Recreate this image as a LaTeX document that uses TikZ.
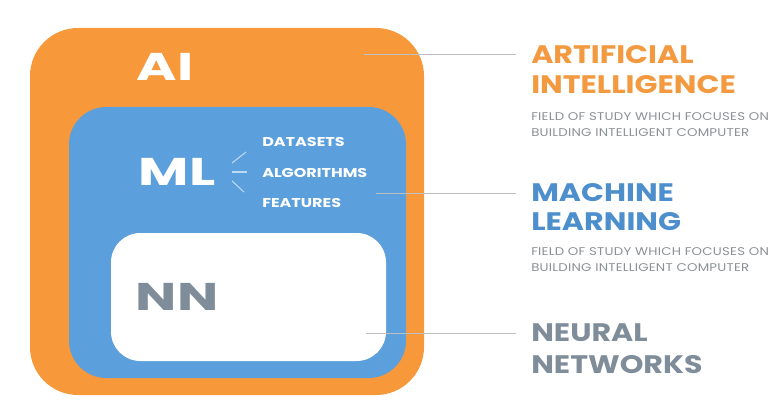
\documentclass[tikz,border=0pt]{standalone}
\usepackage{fontspec}
\setmainfont{Poppins}[FakeStretch=1.19]
\newfontfamily\bigfont{Poppins}[FakeStretch=1.42]
\newfontfamily\subfont{Poppins}[FakeStretch=1.25]
\definecolor{aiorange}{HTML}{F7993B}
\definecolor{mlblue}{HTML}{5B9FDC}
\definecolor{nngray}{HTML}{7F8D9A}
\definecolor{titleorange}{HTML}{F39A40}
\definecolor{titleblue}{HTML}{4C8FCC}
\definecolor{descgray}{HTML}{8C9196}
\definecolor{linegray}{HTML}{BCC0C4}
\tikzset{
  bigbox/.style={rounded corners=#1, inner sep=0pt},
  bigletters/.style={font=\bigfont\fontsize{29}{30}\selectfont\bfseries, inner sep=0pt, anchor=center},
  subitem/.style={font=\subfont\fontsize{9.6}{10}\selectfont\bfseries, text=white, inner sep=0pt, anchor=west},
  title/.style={font=\fontsize{19}{20}\selectfont\bfseries, inner sep=0pt, anchor=west},
  desc/.style={font=\fontsize{8.4}{9}\selectfont\addfontfeature{LetterSpace=2}, text=descgray, inner sep=0pt, anchor=west},
  leader/.style={draw=linegray, line width=0.6pt},
  tick/.style={draw=white!60!mlblue, line width=0.8pt}
}
\begin{document}
\begin{tikzpicture}[x=0.75pt,y=-0.75pt]
\useasboundingbox (0,0) rectangle (771,410);
\fill[white] (0,0) rectangle (771,410);
% boxes
\fill[aiorange, bigbox=36pt] (30,28) rectangle (424,395);
\fill[mlblue, bigbox=28pt] (69,107) rectangle (406,378);
\fill[white, bigbox=22pt] (111,233) rectangle (386,361);
% big labels
\node[bigletters, text=white] (ai) at (165,67) {AI};
\node[bigletters, text=white] (ml) at (177,172) {ML};
\node[bigletters, text=nngray] (nn) at (177,297) {NN};
% sub items
\node[subitem] (ds) at (262,142) {DATASETS};
\node[subitem] (al) at (262,172.5) {ALGORITHMS};
\node[subitem] (fe) at (262,202.5) {FEATURES};
\coordinate (mlr) at (232,172);
\draw[tick] (232,163) -- (246,152);
\draw[tick] (mlr) -- (247,172);
\draw[tick] (232,181) -- (244,192);
% titles
\node[title, text=titleorange] (t1a) at (531,55) {ARTIFICIAL};
\node[title, text=titleorange] (t1b) at (531,85) {INTELLIGENCE};
\node[desc] (d1a) at (531,117) {FIELD OF STUDY WHICH FOCUSES ON};
\node[desc] (d1b) at (531,133) {BUILDING INTELLIGENT COMPUTER};
\node[title, text=titleblue] (t2a) at (531,193) {MACHINE};
\node[title, text=titleblue] (t2b) at (531,222) {LEARNING};
\node[desc] (d2a) at (531,252) {FIELD OF STUDY WHICH FOCUSES ON};
\node[desc] (d2b) at (531,268) {BUILDING INTELLIGENT COMPUTER};
\node[title, text=nngray] (t3a) at (531,333) {NEURAL};
\node[title, text=nngray] (t3b) at (531,365) {NETWORKS};
% leaders
\coordinate (p1) at (364,54);
\coordinate (p2) at (376,193);
\coordinate (p3) at (366,333);
\draw[leader] (p1) -- ([xshift=-11.25pt]t1a.west |- p1);
\draw[leader] (p2) -- ([xshift=-11.25pt]t2a.west |- p2);
\draw[leader] (p3) -- ([xshift=-11.25pt]t3a.west |- p3);
\end{tikzpicture}
\end{document}
